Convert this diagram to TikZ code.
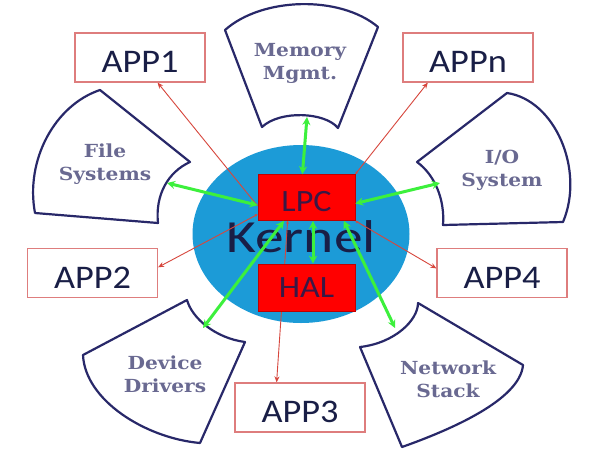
\documentclass[tikz,border=0pt]{standalone}
\usepackage{fontspec}
\setmainfont{Carlito}
\newfontfamily\appfont[FakeStretch=1.1]{Carlito}
\newfontfamily\kernfont[FakeStretch=1.25]{Carlito}
\newfontfamily\partfont[FakeStretch=1.12]{DejaVu Serif}
\usetikzlibrary{arrows.meta,calc,positioning}
\definecolor{kernblue}{RGB}{28,155,215}
\definecolor{boxred}{RGB}{255,0,0}
\definecolor{appred}{RGB}{222,125,125}
\definecolor{linkred}{RGB}{215,70,60}
\definecolor{partnavy}{RGB}{40,40,105}
\definecolor{partgray}{RGB}{105,105,145}
\definecolor{linkgreen}{RGB}{60,240,60}
\definecolor{textnavy}{RGB}{25,30,70}
\pgfdeclarelayer{back}
\pgfdeclarelayer{links}
\pgfsetlayers{back,links,main}
\tikzset{
  part/.style={draw=partnavy,line width=2.2pt,fill=white,line join=round},
  partlabel/.style={font=\partfont\bfseries\fontsize{18}{23}\selectfont,text=partgray,align=center},
  appbox/.style={draw=appred,line width=1.2pt,fill=white,minimum width=130pt,minimum height=49pt,
    inner sep=0pt,font=\appfont\fontsize{33}{33}\selectfont,text=textnavy,text height=30pt,text depth=0pt},
  redbox/.style={draw=red!75!black,line width=0.6pt,fill=boxred,minimum width=97pt,minimum height=46pt,
    inner sep=0pt,font=\appfont\fontsize{31}{31}\selectfont,text=textnavy!80!purple},
  applink/.style={draw=linkred,line width=0.9pt,{Stealth[length=3pt,width=3pt]}-{Stealth[length=6pt,width=5pt]}},
  syslink/.style={draw=linkgreen,line width=3pt,{Stealth[length=8pt,width=8pt]}-{Stealth[length=8pt,width=8pt]}},
}
\begin{document}
\begin{tikzpicture}[x=1pt,y=-1pt]
  \useasboundingbox (0,0) rectangle (613,456);
  \begin{pgfonlayer}{back}
    \fill[white] (0,0) rectangle (613,456);
    % subsystems round the kernel
    \draw[part] (225,30) .. controls (262,-3) and (340,-5) .. (378,27) -- (338,128)
      .. controls (325,112) and (280,110) .. (262,127) -- cycle;
    \draw[part] (100,90) -- (190,162) .. controls (168,172) and (155,195) .. (158,223) -- (35,213)
      .. controls (25,160) and (55,105) .. (100,90) -- cycle;
    \draw[part] (507,93) .. controls (555,100) and (585,170) .. (563,222) -- (443,225)
      .. controls (445,200) and (435,175) .. (417,162) -- cycle;
    \draw[part] (187,300) .. controls (192,318) and (215,338) .. (245,342) -- (200,443)
      .. controls (145,438) and (85,400) .. (83,355) -- cycle;
    \draw[part] (418,303) .. controls (418,320) and (395,343) .. (360,347) -- (402,447)
      .. controls (450,430) and (520,400) .. (523,365) -- cycle;
    \fill[kernblue] (301,234) ellipse [x radius=108.5, y radius=89];
    \node[font=\kernfont\fontsize{46}{46}\selectfont,text=textnavy] (kernel) at (301,237) {Kernel};
  \end{pgfonlayer}
  \node[partlabel] (mem) at (300,63) {Memory\\Mgmt.};
  \node[partlabel] (fs) at (105,164) {File\\Systems};
  \node[partlabel] (io) at (502,170) {I/O\\System};
  \node[partlabel] (dev) at (165,374) {Device\\Drivers};
  \node[partlabel] (net) at (448,379) {Network\\Stack};
  \coordinate (memP) at (307,117);
  \coordinate (fsP) at (167,183);
  \coordinate (ioP) at (440,183);
  \coordinate (devP) at (203,328);
  \coordinate (netP) at (395,328);
  \node[redbox,text height=27pt,text depth=0pt] (lpc) at (306.5,197.5) {LPC};
  \node[redbox,minimum height=47pt] (hal) at (306.5,287.5) {HAL};
  \foreach \n/\t/\p in {app1/APP1/{(140,57.5)},appn/APPn/{(468,57.5)},app2/APP2/{(92.5,273)},
      app4/APP4/{(502,273)},app3/APP3/{(300,407.5)}}
    \node[appbox] (\n) at \p {\t};
  \begin{pgfonlayer}{links}
    \draw[applink] (lpc.190) -- (app1.-55);
    \draw[applink] (lpc.north east) -- (appn.-148);
    \draw[applink] (lpc.-161) -- (app2.5);
    \draw[applink] (lpc.south east) -- (app4.176);
    \draw[applink] (lpc.-129) -- (app3.133);
  \end{pgfonlayer}
  \draw[syslink] (memP) -- (lpc.100);
  \draw[syslink] (fsP) -- (lpc.189);
  \draw[syslink] (ioP) -- (lpc.-7);
  \draw[syslink] (devP) -- (lpc.-134);
  \draw[syslink] (netP) -- (lpc.-32);
  \draw[syslink] ([xshift=6.5pt]lpc.south) -- ([xshift=6.5pt]hal.north);
\end{tikzpicture}
\end{document}
